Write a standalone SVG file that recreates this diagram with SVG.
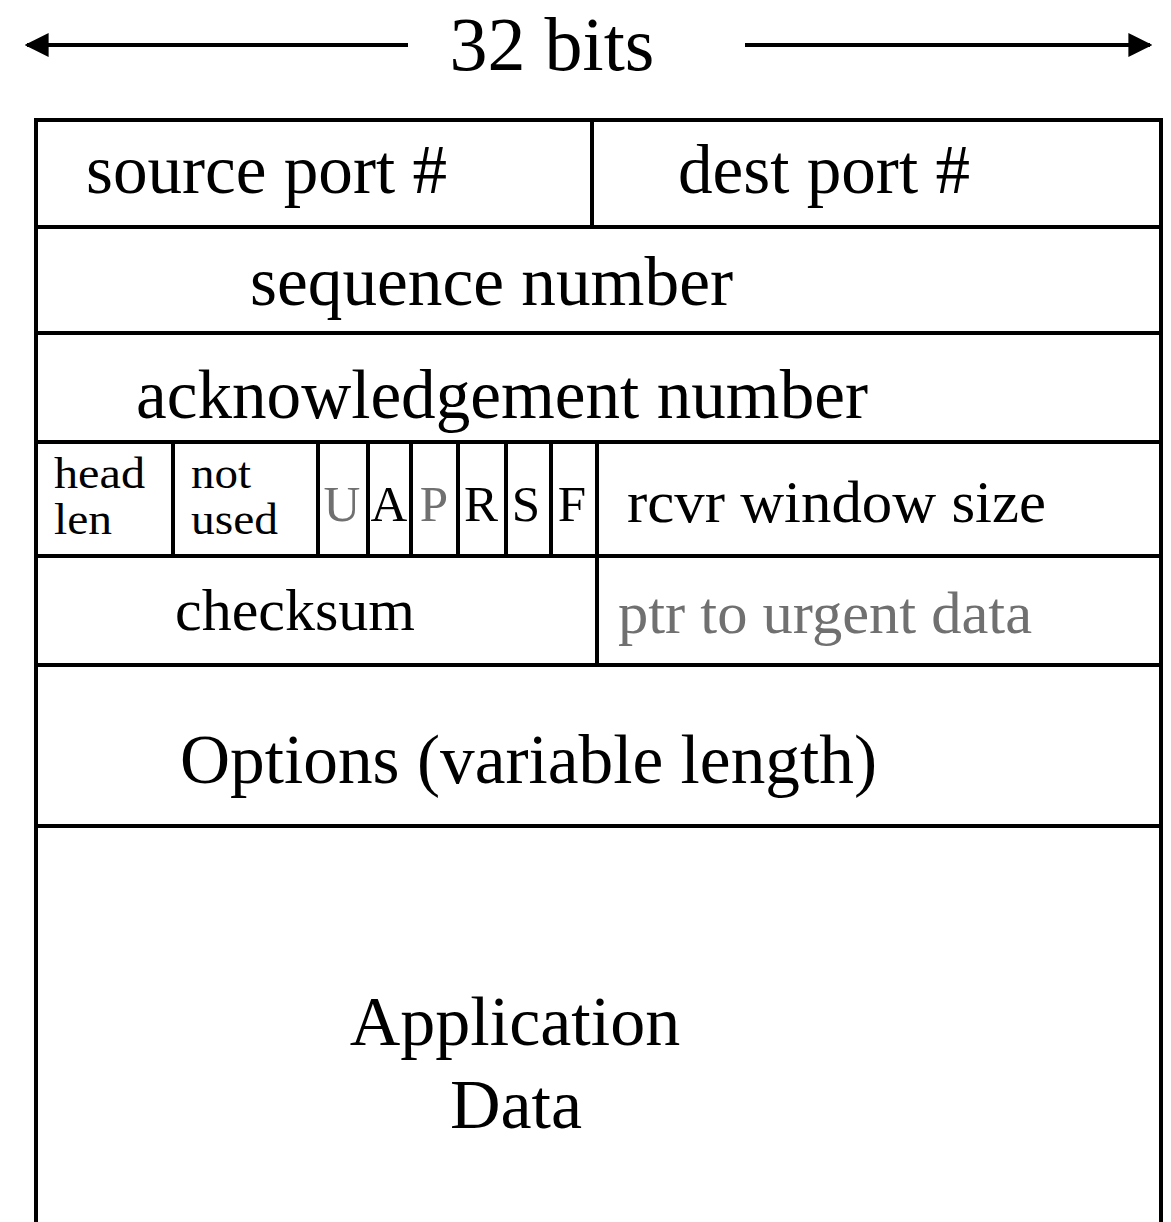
<svg xmlns="http://www.w3.org/2000/svg" width="1171" height="1222" viewBox="0 0 1171 1222">
<style>
text{font-family:"Liberation Serif","Times New Roman",serif;fill:#000}
.big{font-size:70px}
.mid{font-size:60px}
.sm{font-size:44px}
.flag{font-size:51px;text-anchor:middle}
.gray{fill:#707070}
.ln{stroke:#000;stroke-width:4;fill:none}
</style>
<defs>
<marker id="ah" viewBox="0 0 10 10" refX="9" refY="5" markerWidth="6" markerHeight="6" orient="auto-start-reverse" markerUnits="strokeWidth">
<path d="M0,0 L10,5 L0,10 z" fill="#000"/>
</marker>
</defs>
<g id="connectors">
<line class="ln" x1="408" y1="45" x2="27" y2="45" marker-end="url(#ah)"/>
<line class="ln" x1="745" y1="45" x2="1150" y2="45" marker-end="url(#ah)"/>
</g>
<g id="title"><text x="552" y="70" font-size="76" text-anchor="middle">32 bits</text></g>
<g id="frame">
<path class="ln" d="M36,1222 V120 H1161 V1222"/>
<line class="ln" x1="36" y1="227" x2="1161" y2="227"/>
<line class="ln" x1="36" y1="333" x2="1161" y2="333"/>
<line class="ln" x1="36" y1="442" x2="1163" y2="442"/>
<line class="ln" x1="36" y1="556" x2="1161" y2="556"/>
<line class="ln" x1="36" y1="665" x2="1161" y2="665"/>
<line class="ln" x1="36" y1="826" x2="1161" y2="826"/>
</g>
<g id="source-port"><text class="big" x="86" y="193" textLength="361" lengthAdjust="spacingAndGlyphs">source port #</text></g>
<g id="dest-port"><line class="ln" x1="592" y1="120" x2="592" y2="227"/><text class="big" x="678" y="193" textLength="292" lengthAdjust="spacingAndGlyphs">dest port #</text></g>
<g id="sequence-number"><text class="big" x="250" y="305" textLength="483" lengthAdjust="spacingAndGlyphs">sequence number</text></g>
<g id="ack-number"><text class="big" x="136" y="418" textLength="732" lengthAdjust="spacingAndGlyphs">acknowledgement number</text></g>
<g id="head-len"><text class="sm"><tspan x="54" y="488" textLength="91" lengthAdjust="spacingAndGlyphs">head</tspan><tspan x="54" y="534" textLength="58" lengthAdjust="spacingAndGlyphs">len</tspan></text></g>
<g id="not-used"><line class="ln" x1="173" y1="442" x2="173" y2="556"/><text class="sm"><tspan x="191" y="488" textLength="60" lengthAdjust="spacingAndGlyphs">not</tspan><tspan x="191" y="534" textLength="87" lengthAdjust="spacingAndGlyphs">used</tspan></text></g>
<g id="flag-U"><line class="ln" x1="318" y1="442" x2="318" y2="556"/><text class="flag gray" x="342" y="521">U</text></g>
<g id="flag-A"><line class="ln" x1="368" y1="442" x2="368" y2="556"/><text class="flag" x="389" y="521">A</text></g>
<g id="flag-P"><line class="ln" x1="411" y1="442" x2="411" y2="556"/><text class="flag gray" x="434" y="521">P</text></g>
<g id="flag-R"><line class="ln" x1="458" y1="442" x2="458" y2="556"/><text class="flag" x="481" y="521">R</text></g>
<g id="flag-S"><line class="ln" x1="506" y1="442" x2="506" y2="556"/><text class="flag" x="526" y="521">S</text></g>
<g id="flag-F"><line class="ln" x1="551" y1="442" x2="551" y2="556"/><text class="flag" x="572" y="521">F</text></g>
<g id="rcvr-window"><line class="ln" x1="597" y1="442" x2="597" y2="556"/><text class="mid" x="627" y="522" textLength="419" lengthAdjust="spacingAndGlyphs">rcvr window size</text></g>
<g id="checksum"><text class="mid" x="175" y="630" textLength="240" lengthAdjust="spacingAndGlyphs">checksum</text></g>
<g id="urgent-ptr"><line class="ln" x1="597" y1="556" x2="597" y2="665"/><text class="mid gray" x="618" y="633" textLength="414" lengthAdjust="spacingAndGlyphs">ptr to urgent data</text></g>
<g id="options"><text class="big" x="180" y="783" textLength="697" lengthAdjust="spacingAndGlyphs">Options (variable length)</text></g>
<g id="app-data"><text class="big" x="515" y="1045" text-anchor="middle">Application</text><text class="big" x="516" y="1128" text-anchor="middle">Data</text></g>
</svg>
